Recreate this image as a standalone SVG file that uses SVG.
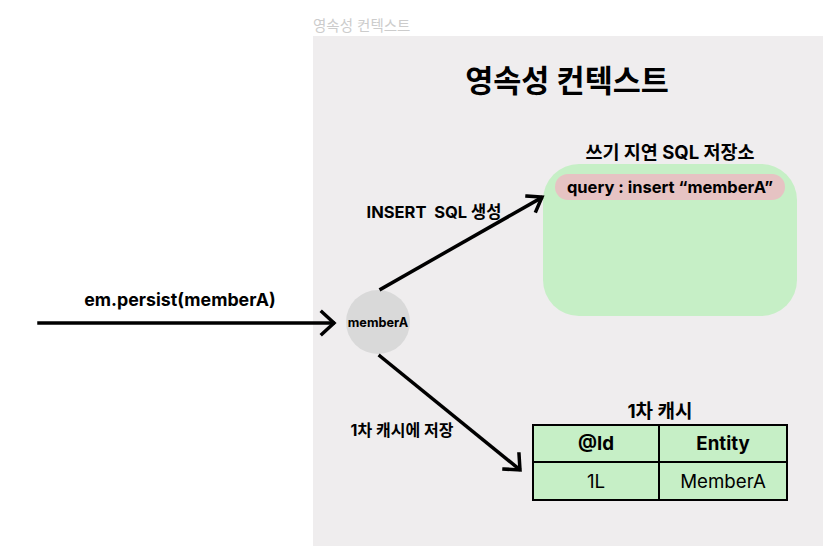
<svg xmlns="http://www.w3.org/2000/svg" width="832" height="557" viewBox="0 0 832 557">
<defs>
<style>
text{font-family:Inter,"Noto Sans CJK KR",sans-serif;fill:#000}
.b{font-weight:bold}
.c{text-anchor:middle}
.ln{stroke:#000;stroke-width:3.5;fill:none;stroke-linecap:square}
.hd{stroke:#000;stroke-width:3.5;fill:none;stroke-linejoin:miter;stroke-linecap:square}
</style>
</defs>
<rect width="832" height="557" fill="#fff"/>
<g id="context">
<text x="313" y="31" font-size="14.5" style="fill:#cccccc">영속성 컨텍스트</text>
<rect x="313" y="36" width="510" height="510" fill="#efedee"/>
<text x="567" y="92" font-size="30.5" class="b c">영속성 컨텍스트</text>
</g>
<g id="sql-store">
<text x="670" y="159" font-size="18.5" class="b c">쓰기 지연 SQL 저장소</text>
<rect x="543" y="164" width="254" height="152" rx="36" fill="#c6efc6"/>
<rect x="555" y="174" width="230" height="26" rx="13" fill="#e6c3c3"/>
<text x="670" y="193" font-size="16.5" class="b c">query : insert “memberA”</text>
</g>
<g id="memberA">
<circle cx="378" cy="322" r="32" fill="#d9d9d9"/>
<text x="378" y="327" font-size="12.7" class="b c">memberA</text>
</g>
<g id="cache">
<text x="660" y="418" font-size="19" class="b c">1차 캐시</text>
<rect x="533" y="425" width="254" height="75" fill="#c6efc6" stroke="#000" stroke-width="2"/>
<line x1="533" y1="462" x2="787" y2="462" stroke="#000" stroke-width="2"/>
<line x1="659" y1="425" x2="659" y2="500" stroke="#000" stroke-width="2"/>
<text x="596" y="450" font-size="18.7" class="b c">@Id</text>
<text x="723" y="450" font-size="18.7" class="b c">Entity</text>
<text x="596" y="488" font-size="18.7" class="c">1L</text>
<text x="723" y="488" font-size="18.7" class="c">MemberA</text>
</g>
<g id="connectors">
<line class="ln" x1="39" y1="323" x2="333" y2="323"/>
<polyline class="hd" points="322,312 334,323 322,334"/>
<text x="180" y="306" font-size="17.8" class="b c">em.persist(memberA)</text>
<line class="ln" x1="381" y1="289" x2="541" y2="198"/>
<polyline class="hd" points="527,196 542,197 536,211"/>
<text x="434" y="218" font-size="16.5" class="b c" xml:space="preserve">INSERT  SQL 생성</text>
<line class="ln" x1="380" y1="356" x2="519" y2="469"/>
<polyline class="hd" points="504,469 520,470 519,454"/>
<text x="402" y="436" font-size="16" class="b c">1차 캐시에 저장</text>
</g>
</svg>
